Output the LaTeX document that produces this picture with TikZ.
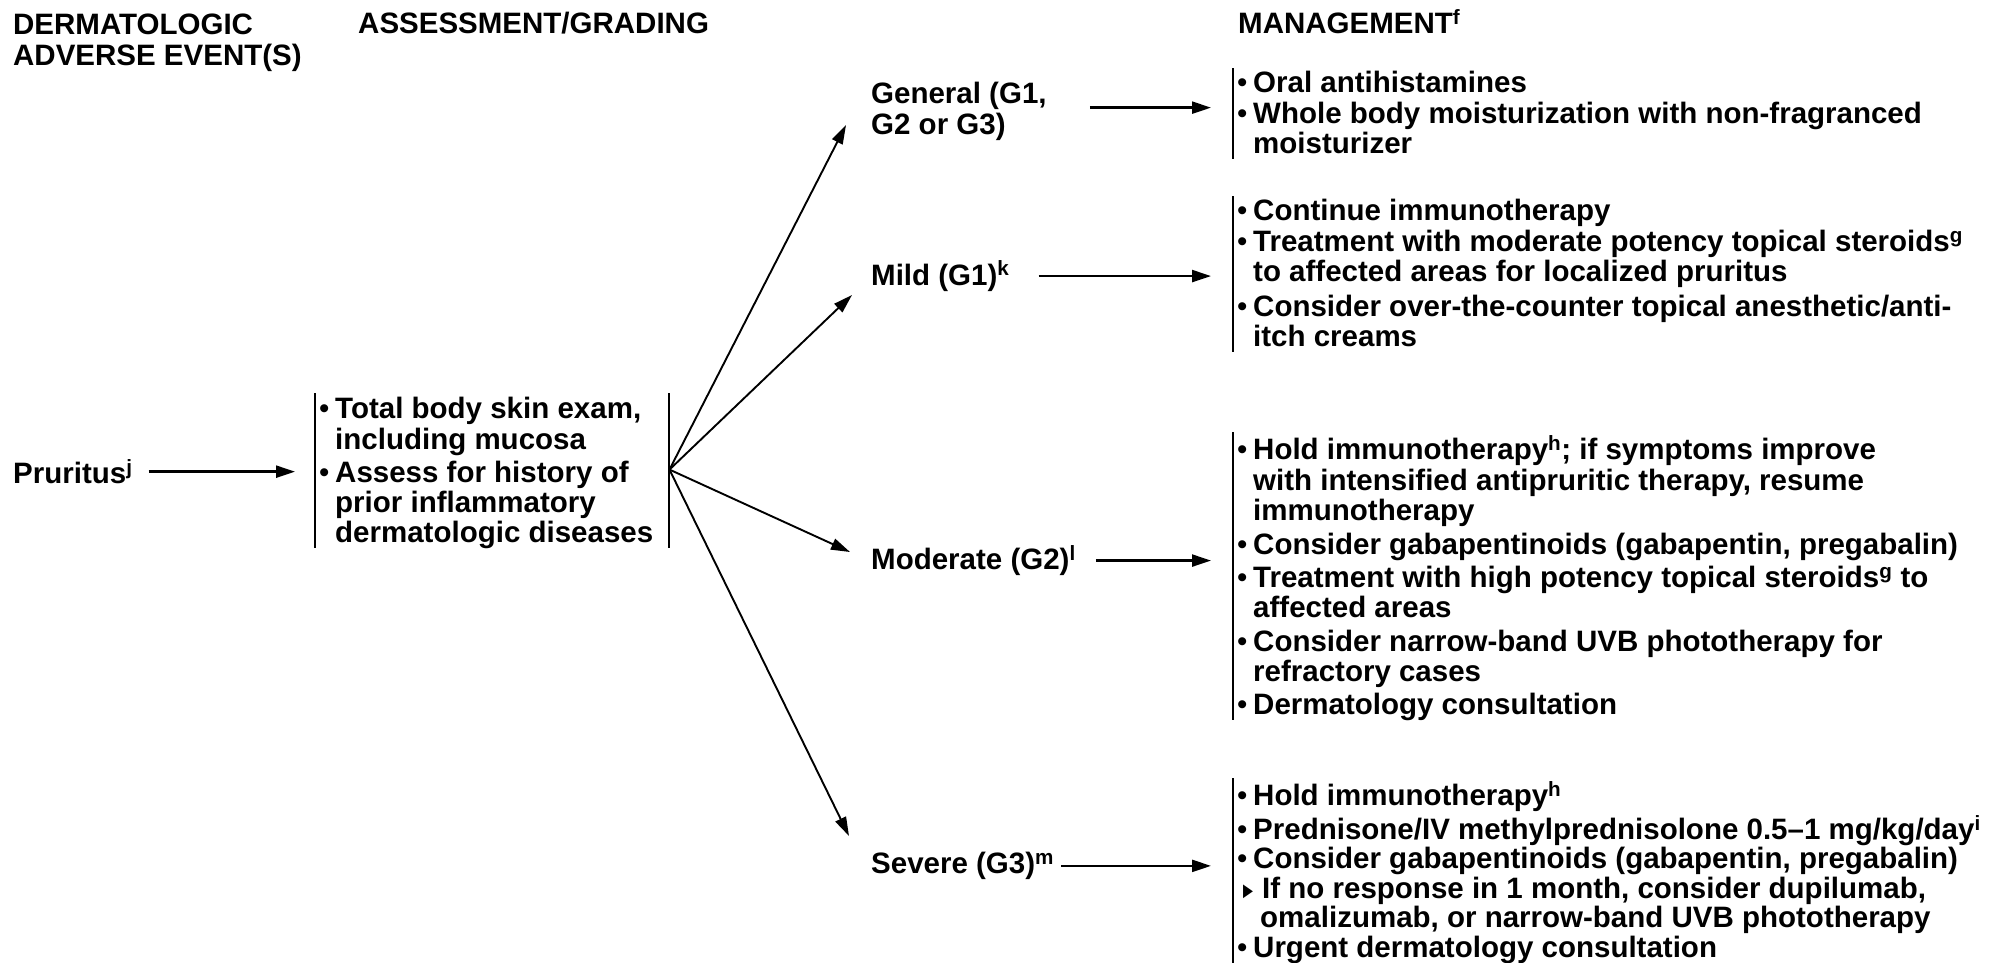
\documentclass[tikz,border=0pt]{standalone}
\usepackage{fontspec}
\setmainfont{Liberation Sans}
\newfontfamily\symfont{DejaVu Sans}
\usetikzlibrary{arrows.meta}

% bullets and hanging indents for the list blocks
\newcommand\bul{\makebox[18pt][l]{\hspace{2pt}\mdseries•}}
\newcommand\ind{\hspace*{18pt}}
\newcommand\subbul{\makebox[27pt][l]{\hspace{8pt}\raisebox{1.5pt}{\scalebox{0.72}[1]{\symfont\fontsize{18}{18}\selectfont ▶}}}}
\newcommand\subind{\hspace*{25pt}}

\begin{document}
\begin{tikzpicture}[x=1pt,y=-1pt,
  every node/.style={font=\fontsize{29.5}{30}\selectfont\bfseries, inner sep=0pt, align=left},
  harr/.style={line width=2.4pt, -{Triangle[length=19pt,width=12pt]}},
  farr/.style={line width=1.9pt, -{Triangle[length=19pt,width=11.5pt]}},
  bar/.style={line width=2pt}
]
\useasboundingbox[fill=white] (0,0) rectangle (1990,962);

% column headings
\node[anchor=north west] (hdrA) at (13,13) {\strut DERMATOLOGIC\\ADVERSE EVENT(S)};
\node[anchor=base west] (hdrB) at (358,33.5) {ASSESSMENT/GRADING};
\node[anchor=base west] (hdrC) at (1238,33.5) {MANAGEMENT\textsuperscript{f}};

% adverse event and assessment
\node[anchor=base west] (prur) at (13,483.5) {Pruritus\textsuperscript{j}};
\node[anchor=north west] (assess) at (317,397) {\strut\bul Total body skin exam,\\
\ind including mucosa\\[3pt]
\bul Assess for history of\\
\ind prior inflammatory\\
\ind dermatologic diseases\strut};

% grades
\node[anchor=north west] (gen) at (871,82) {\strut General (G1,\\G2 or G3)};
\node[anchor=base west] (mild) at (871,285) {Mild (G1)\textsuperscript{k}};
\node[anchor=base west] (mod) at (871,569.5) {Moderate (G2)\textsuperscript{l}};
\node[anchor=base west] (sev) at (871,873.5) {Severe (G3)\textsuperscript{m}};

% management blocks
\node[anchor=north west] (bgen) at (1235,71) {\strut\bul Oral antihistamines\\
\bul Whole body moisturization with non-fragranced\\
\ind moisturizer\strut};

\node[anchor=north west] (bmild) at (1235,199) {\strut\bul Continue immunotherapy\\
\bul Treatment with moderate potency topical steroids\textsuperscript{g}\\
\ind to affected areas for localized pruritus\\[5pt]
\bul Consider over-the-counter topical anesthetic/anti-\\
\ind itch creams\strut};

\node[anchor=north west] (bmod) at (1235,435) {\strut\bul Hold immunotherapy\textsuperscript{h}; if symptoms improve\\
\ind with intensified antipruritic therapy, resume\\
\ind immunotherapy\\[3.5pt]
\bul Consider gabapentinoids (gabapentin, pregabalin)\\[3.5pt]
\bul Treatment with high potency topical steroids\textsuperscript{g} to\\
\ind affected areas\\[3.5pt]
\bul Consider narrow-band UVB phototherapy for\\
\ind refractory cases\\[3.5pt]
\bul Dermatology consultation\strut};

\node[anchor=north west, font=\fontsize{29.5}{29.5}\selectfont\bfseries] (bsev) at (1235,781)
{\strut\bul Hold immunotherapy\textsuperscript{h}\\
\bul Prednisone/IV methylprednisolone 0.5–1 mg/kg/day\textsuperscript{i}\\
\bul Consider gabapentinoids (gabapentin, pregabalin)\\
\subbul If no response in 1 month, consider dupilumab,\\
\subind omalizumab, or narrow-band UVB phototherapy\\
\bul Urgent dermatology consultation};

% vertical rules beside the lists
\draw[bar] ([shift={(-2pt,4pt)}]assess.north west) -- ([shift={(-2pt,4pt)}]assess.south west);
\draw[bar] ([shift={(16pt,4pt)}]assess.north east) -- ([shift={(16pt,4pt)}]assess.south east);
\foreach \b in {bgen,bmild,bmod}
  \draw[bar] ([shift={(-2pt,3pt)}]\b.north west) -- ([shift={(-2pt,4pt)}]\b.south west);
\draw[bar] ([shift={(-2pt,3pt)}]bsev.north west) -- ([shift={(-2pt,-6pt)}]bsev.south west);

% event to assessment
\draw[harr, shorten <=16pt, shorten >=22pt] (prur.east) -- (prur.east -| assess.west);

% fan from the assessment to the grades
\coordinate (fan) at ([shift={(16pt,5pt)}]assess.east);
\coordinate (tGen) at (846,125);
\coordinate (tMild) at (852,295);
\coordinate (tMod) at (850,552);
\coordinate (tSev) at (849,836);
\draw[farr] (fan) -- (tGen);
\draw[farr] (fan) -- (tMild);
\draw[farr] (fan) -- (tMod);
\draw[farr] (fan) -- (tSev);

% grades to management
\draw[harr, shorten <=43pt, shorten >=24pt] ([yshift=4pt]gen.east) -- ([yshift=4pt]gen.east -| bgen.west);
\draw[harr, shorten <=29pt, shorten >=24pt] (mild.east) -- (mild.east -| bmild.west);
\draw[harr, shorten <=20pt, shorten >=24pt] (mod.east) -- (mod.east -| bmod.west);
\draw[harr, shorten <=7pt, shorten >=24pt] (sev.east) -- (sev.east -| bsev.west);
\end{tikzpicture}
\end{document}
